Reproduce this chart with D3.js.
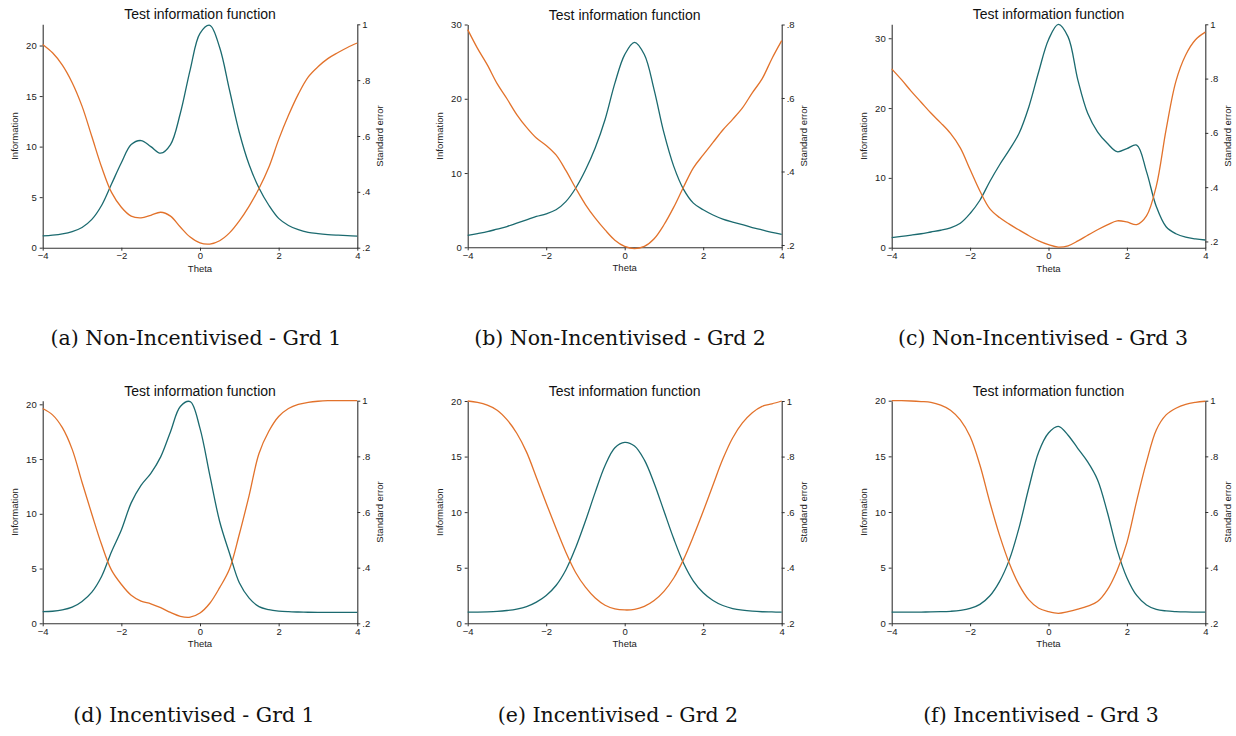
<!DOCTYPE html>
<html><head><meta charset="utf-8">
<script src="https://cdn.jsdelivr.net/npm/d3@7"></script>
<style>body{margin:0;background:#fff}svg{display:block}</style>
</head><body>
<script>
// ---- data ----
const theta = [-4,-3.75,-3.5,-3.25,-3,-2.75,-2.5,-2.25,-2,-1.75,-1.5,-1.25,-1,-0.75,-0.5,-0.25,0,0.25,0.5,0.75,1,1.25,1.5,1.75,2,2.25,2.5,2.75,3,3.25,3.5,3.75,4];

const infoA = [1.16,1.24,1.37,1.6,2.0,2.8,4.2,6.3,8.4,10.2,10.6,10.0,9.35,10.2,13.3,17.6,21.2,22.0,19.8,15.6,11.4,8.2,5.9,4.2,2.9,2.2,1.78,1.52,1.39,1.3,1.24,1.19,1.15];
const seA   = [0.928,0.898,0.854,0.791,0.707,0.598,0.488,0.398,0.345,0.313,0.307,0.316,0.327,0.313,0.274,0.238,0.217,0.213,0.225,0.253,0.296,0.349,0.412,0.488,0.587,0.674,0.750,0.811,0.848,0.877,0.898,0.917,0.933];

const infoB = [1.62,1.85,2.1,2.45,2.8,3.25,3.7,4.15,4.5,5.05,6.15,7.95,10.4,13.4,17.2,22.1,25.95,27.6,25.95,21.2,15.4,10.9,7.8,5.95,5.05,4.35,3.8,3.4,3.05,2.65,2.35,2.0,1.75];
const seB   = [0.786,0.735,0.690,0.639,0.598,0.555,0.520,0.491,0.471,0.445,0.403,0.355,0.310,0.273,0.241,0.213,0.196,0.190,0.196,0.217,0.255,0.303,0.358,0.410,0.445,0.479,0.513,0.542,0.573,0.614,0.652,0.707,0.756];

const infoC = [1.43,1.62,1.8,2.0,2.25,2.5,2.85,3.5,4.9,6.8,9.45,11.85,14.0,16.4,20.2,25.2,29.8,32.0,30.2,24.0,19.25,16.6,14.95,13.75,14.2,14.7,10.9,5.9,3.0,2.0,1.5,1.25,1.1];
const seC   = [0.836,0.796,0.753,0.713,0.673,0.637,0.598,0.545,0.465,0.386,0.321,0.288,0.264,0.242,0.221,0.202,0.188,0.179,0.184,0.202,0.223,0.243,0.261,0.276,0.272,0.262,0.294,0.404,0.612,0.790,0.887,0.943,0.971];

const infoD = [1.06,1.1,1.22,1.47,2.0,2.85,4.3,6.54,8.52,11.0,12.6,13.7,15.2,17.5,19.8,20.25,17.8,13.5,9.3,6.4,3.7,2.3,1.52,1.25,1.12,1.06,1.03,1.01,1.0,1.0,1.0,1.0,1.0];
const seD   = [0.972,0.949,0.903,0.825,0.707,0.592,0.482,0.391,0.340,0.301,0.280,0.270,0.256,0.239,0.225,0.222,0.237,0.272,0.328,0.395,0.520,0.660,0.810,0.890,0.943,0.972,0.987,0.994,0.998,1.0,1.0,1.0,1.0];

const infoE = [1.0,1.01,1.03,1.07,1.15,1.28,1.5,1.9,2.5,3.4,4.8,6.8,9.2,11.8,14.2,15.8,16.28,15.95,14.7,12.6,10.1,7.6,5.4,3.8,2.75,2.05,1.6,1.33,1.18,1.09,1.04,1.02,1.0];
const seE   = [1.0,0.995,0.985,0.967,0.933,0.884,0.816,0.725,0.632,0.542,0.456,0.383,0.330,0.291,0.265,0.252,0.248,0.250,0.261,0.282,0.315,0.363,0.430,0.513,0.603,0.698,0.791,0.867,0.921,0.958,0.981,0.990,1.0];

const infoF = [1.0,1.0,1.0,1.01,1.02,1.04,1.08,1.16,1.33,1.7,2.45,3.75,5.7,8.6,12.2,15.4,17.1,17.7,16.9,15.7,14.5,12.9,10.0,6.6,4.1,2.5,1.65,1.25,1.11,1.05,1.02,1.01,1.0];
const seF   = [1.0,1.0,0.999,0.997,0.994,0.984,0.966,0.931,0.871,0.769,0.637,0.517,0.416,0.338,0.284,0.254,0.242,0.236,0.242,0.251,0.262,0.278,0.320,0.390,0.490,0.640,0.780,0.895,0.949,0.973,0.987,0.994,0.998];

const thetaTicks = [-4,-2,0,2,4];
const infoTicks5 = [0,5,10,15,20];
const infoTicks10 = [0,10,20,30];
const seTicks = [0.2,0.4,0.6,0.8,1];
const seTicksB = [0.2,0.4,0.6,0.8];

const captions = ["(a) Non-Incentivised - Grd 1","(b) Non-Incentivised - Grd 2","(c) Non-Incentivised - Grd 3",
                  "(d) Incentivised - Grd 1","(e) Incentivised - Grd 2","(f) Incentivised - Grd 3"];
const titleText = "Test information function";

const infoSeries = [infoA,infoB,infoC,infoD,infoE,infoF];
const seSeries = [seA,seB,seC,seD,seE,seF];
const infoTickSets = [infoTicks5,infoTicks10,infoTicks10,infoTicks5,infoTicks5,infoTicks5];
const seTickSets = [seTicks,seTicksB,seTicks,seTicks,seTicks,seTicks];
const infoMax = [22.1,30,32,20.33,20,20];
const seRange = [[0.2,1],[0.1937,0.8],[0.177,1],[0.2,1],[0.2,1],[0.2,1]];

// ---- layout ----
const layout = [
  {x0:42.7, x1:357.3, y0:24.3, y1:247.7, cx:196, capY:345},
  {x0:467.7,x1:781.7, y0:24.5, y1:247.3, cx:620, capY:345},
  {x0:891.7,x1:1205.3,y0:24.3, y1:247.7, cx:1043,capY:345},
  {x0:42.7, x1:357.3, y0:400.7,y1:623.3, cx:194, capY:721.7},
  {x0:467.7,x1:781.7, y0:401,  y1:623.3, cx:618, capY:721.7},
  {x0:891.7,x1:1205.3,y0:400.7,y1:623.3, cx:1041,capY:721.7}
];
const TEAL = "#1b6a6f", ORANGE = "#e2722b", AXIS = "#333";
const SANS = "'Liberation Sans', Arial, sans-serif";

const svg = d3.select("body").append("svg").attr("width",1236).attr("height",736)
  .style("background","#fff");

const seFmt = d => d === 1 ? "1" : d3.format(".1f")(d).replace(/^0/,"");

layout.forEach((L,i) => {
  const g = svg.append("g");
  const x = d3.scaleLinear().domain([-4,4]).range([L.x0,L.x1]);
  const yI = d3.scaleLinear().domain([0,infoMax[i]]).range([L.y1,L.y0]);
  const yS = d3.scaleLinear().domain(seRange[i]).range([L.y1,L.y0]);

  const styleAxis = sel => {
    sel.selectAll("path.domain").attr("stroke",AXIS).attr("stroke-width",1.1);
    sel.selectAll(".tick line").attr("stroke",AXIS).attr("stroke-width",1);
    sel.selectAll(".tick text").attr("fill","#222").style("font-family",SANS).style("font-size","9.5px");
  };

  g.append("g").attr("transform",`translate(0,${L.y1})`)
    .call(d3.axisBottom(x).tickValues(thetaTicks).tickSize(3).tickSizeOuter(0).tickPadding(2).tickFormat(d3.format("d")))
    .call(styleAxis);
  g.append("g").attr("transform",`translate(${L.x0},0)`)
    .call(d3.axisLeft(yI).tickValues(infoTickSets[i]).tickSize(3).tickSizeOuter(0).tickPadding(3).tickFormat(d3.format("d")))
    .call(styleAxis);
  g.append("g").attr("transform",`translate(${L.x1},0)`)
    .call(d3.axisRight(yS).tickValues(seTickSets[i]).tickSize(3).tickSizeOuter(0).tickPadding(2).tickFormat(seFmt))
    .call(styleAxis);

  const pts = theta.map((t,k) => ({t, info: infoSeries[i][k], se: seSeries[i][k]}));
  g.append("path").datum(pts)
    .attr("fill","none").attr("stroke",TEAL).attr("stroke-width",1.3)
    .attr("d", d3.line().x(d=>x(d.t)).y(d=>yI(d.info)).curve(d3.curveCatmullRom.alpha(0.5)));
  g.append("path").datum(pts)
    .attr("fill","none").attr("stroke",ORANGE).attr("stroke-width",1.3)
    .attr("d", d3.line().x(d=>x(d.t)).y(d=>yS(d.se)).curve(d3.curveCatmullRom.alpha(0.5)));

  // texts
  g.append("text").attr("x",(L.x0+L.x1)/2).attr("y",L.y0-5).attr("text-anchor","middle")
    .style("font-family",SANS).style("font-size","14px").attr("fill","#111").text(titleText);
  g.append("text").attr("x",(L.x0+L.x1)/2).attr("y",L.y1+24).attr("text-anchor","middle")
    .style("font-family",SANS).style("font-size","9.5px").attr("fill","#222").text("Theta");
  g.append("text").attr("transform",`translate(${L.x0-28.5},${(L.y0+L.y1)/2}) rotate(-90)`)
    .attr("text-anchor","middle").attr("dy","0.35em")
    .style("font-family",SANS).style("font-size","9.5px").attr("fill","#222").text("Information");
  g.append("text").attr("transform",`translate(${L.x1+22},${(L.y0+L.y1)/2}) rotate(-90)`)
    .attr("text-anchor","middle").attr("dy","0.35em")
    .style("font-family",SANS).style("font-size","9.5px").attr("fill","#222").text("Standard error");
  svg.append("text").attr("x",L.cx).attr("y",L.capY).attr("text-anchor","middle")
    .style("font-family","'DejaVu Serif', serif").style("font-size","20.5px").attr("fill","#111").text(captions[i]);
});
</script>
</body></html>
